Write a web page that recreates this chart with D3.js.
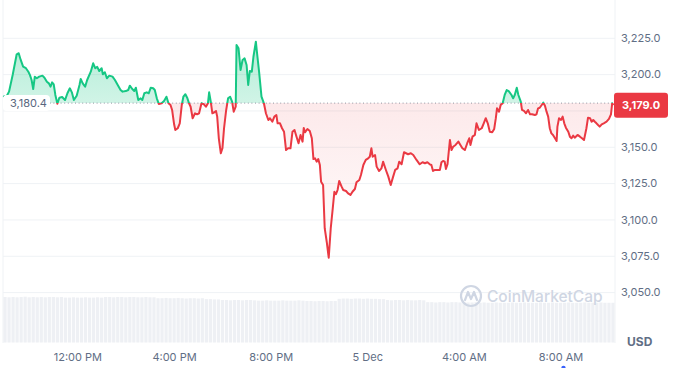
<!DOCTYPE html>
<html><head><meta charset="utf-8">
<script src="https://cdn.jsdelivr.net/npm/d3@7"></script>
<style>
body{margin:0;background:#fff;}
svg{display:block;font-family:Inter,"Noto Sans",sans-serif;}
</style>
</head><body>
<svg id="chart" width="673" height="368"></svg>
<script>
// minutes after 00:00 on 4 Dec
const times = [535,541,549,558,568,573,578,584,591,597,601,605,609,613,618,624,632,637,643,648,652,656,660,664,669,674,681,688,694,700,705,710,717,724,727,732,738,743,752,758,763,768,773,779,782,787,792,798,806,812,820,826,831,839,845,849,855,860,864,870,876,880,885,891,896,901,907,911,916,921,928,934,940,945,950,954,959,962,968,973,978,982,987,992,996,1000,1005,1011,1016,1021,1027,1033,1038,1043,1046,1050,1054,1059,1063,1066,1070,1075,1079,1083,1088,1093,1098,1103,1107,1112,1114,1119,1124,1129,1134,1139,1143,1147,1152,1156,1162,1165,1170,1176,1182,1187,1193,1197,1203,1208,1213,1216,1222,1227,1232,1237,1242,1248,1253,1258,1263,1268,1273,1278,1281,1284,1290,1296,1301,1305,1309,1313,1317,1321,1324,1329,1333,1338,1343,1348,1353,1357,1361,1365,1369,1375,1379,1386,1391,1397,1402,1408,1412,1419,1423,1429,1435,1441,1445,1449,1452,1458,1462,1468,1474,1478,1485,1491,1497,1503,1508,1514,1518,1524,1530,1535,1540,1547,1553,1561,1569,1576,1582,1588,1594,1598,1602,1607,1612,1619,1623,1627,1631,1634,1638,1644,1648,1652,1658,1665,1670,1675,1681,1687,1692,1695,1700,1706,1710,1716,1723,1728,1733,1738,1743,1749,1754,1758,1761,1766,1770,1775,1780,1785,1790,1797,1801,1805,1810,1814,1820,1823,1828,1833,1838,1843,1848,1855,1859,1863,1867,1872,1876,1880,1884,1888,1892,1896,1900,1905,1909,1911,1915,1920,1924,1928,1932,1938,1942,1946,1950,1954,1961,1967,1972,1977,1983,1987,1992,1996,2000,2004,2008,2012,2016,2021,2026,2033,2039,2044,2047,2050];
const prices = [3185.5,3184.1,3188.3,3199.7,3214.0,3214.7,3210.1,3205.5,3204.4,3202.0,3199.7,3196.3,3190.1,3198.6,3197.5,3198.6,3199.3,3197.9,3195.1,3194.0,3191.7,3194.7,3193.3,3186.0,3180.0,3184.1,3184.6,3182.5,3187.2,3190.6,3187.8,3182.5,3185.5,3192.9,3197.0,3194.0,3191.7,3196.3,3202.0,3207.8,3204.4,3205.3,3202.5,3204.4,3200.2,3201.6,3197.5,3199.3,3198.6,3196.3,3192.4,3189.4,3188.3,3188.7,3189.4,3192.4,3190.1,3188.7,3191.0,3182.5,3183.7,3182.5,3187.2,3187.8,3187.2,3191.0,3190.6,3189.4,3183.7,3179.8,3180.3,3181.9,3184.8,3180.3,3179.1,3175.7,3165.8,3161.9,3163.1,3166.5,3179.1,3184.8,3186.5,3183.7,3180.3,3177.9,3170.0,3173.4,3172.7,3173.4,3180.3,3179.6,3177.9,3180.3,3187.8,3181.4,3173.4,3174.1,3175.0,3171.1,3156.2,3145.9,3149.3,3163.1,3175.0,3183.7,3184.8,3181.4,3174.5,3177.9,3220.4,3218.1,3203.2,3210.1,3211.2,3206.6,3192.9,3202.5,3202.0,3212.3,3222.7,3214.7,3202.0,3184.8,3180.3,3173.4,3168.8,3170.0,3167.6,3171.1,3172.2,3166.5,3166.5,3163.1,3160.7,3148.1,3149.3,3149.3,3160.7,3161.9,3157.3,3152.8,3158.5,3153.9,3163.3,3160.3,3162.6,3161.2,3156.2,3141.9,3142.4,3140.1,3141.9,3137.8,3126.3,3124.1,3094.3,3085.0,3074.0,3094.3,3108.0,3119.4,3117.7,3120.6,3126.8,3122.9,3120.6,3119.9,3118.3,3117.2,3119.4,3121.3,3125.9,3127.5,3130.9,3137.8,3141.3,3142.4,3143.5,3149.3,3143.5,3144.7,3136.7,3133.7,3135.5,3140.1,3134.4,3129.8,3124.1,3129.8,3134.4,3135.5,3140.1,3138.3,3146.6,3145.9,3145.2,3145.9,3144.7,3141.3,3138.3,3139.7,3139.0,3139.7,3138.3,3137.8,3133.7,3134.4,3134.4,3134.4,3139.7,3140.6,3140.1,3135.1,3138.3,3155.0,3148.1,3150.4,3151.6,3153.9,3151.6,3149.3,3148.1,3152.8,3156.2,3151.6,3157.3,3158.5,3166.5,3161.9,3163.1,3166.5,3170.0,3166.5,3160.7,3160.3,3162.6,3170.0,3176.8,3174.5,3179.1,3180.3,3186.0,3189.4,3188.7,3186.0,3183.7,3186.0,3191.0,3186.0,3181.4,3175.7,3175.0,3173.4,3175.7,3172.7,3172.7,3172.2,3172.7,3176.8,3177.2,3179.1,3180.7,3178.6,3174.5,3171.1,3163.1,3159.6,3158.5,3156.2,3154.3,3164.2,3170.0,3168.8,3171.1,3166.5,3163.5,3160.7,3157.3,3156.2,3158.0,3156.6,3158.5,3157.3,3156.2,3155.0,3163.1,3170.4,3170.0,3167.6,3168.8,3167.6,3166.5,3165.3,3164.2,3165.8,3166.5,3167.6,3169.5,3172.7,3180.3,3179.0];
const openPrice = 3180.4;
const lastPrice = 3179.0;
const yTicks = [3050,3075,3100,3125,3150,3175,3200,3225];
const yHidden = [3175];
const xTickHours = [12,16,20,24,28,32];
const xTickLabels = ["12:00 PM","4:00 PM","8:00 PM","5 Dec","4:00 AM","8:00 AM"];
// volume bars, one per 10 minutes starting 535
const volStart = 535, volStep = 10;
const volumes = [15.0,14.9,15.0,14.9,15.0,15.1,14.9,15.0,14.9,15.0,14.9,15.0,15.0,14.9,15.0,
14.8,14.8,14.9,14.8,14.8,14.9,14.8,14.8,14.9,14.8,
15.0,15.0,14.9,15.0,15.0,14.9,15.0,15.0,14.9,14.9,15.0,14.9,14.9,
14.6,14.6,14.7,14.6,14.6,14.7,14.6,14.5,14.6,14.6,14.5,14.6,
14.3,14.3,14.2,14.2,
14.0,14.0,13.9,14.0,14.0,13.9,14.0,14.0,13.9,
13.8,13.8,13.9,13.8,13.8,13.8,13.9,13.8,13.8,13.8,13.9,13.8,
13.7,13.7,13.6,13.7,13.7,13.6,13.7,13.7,
14.4,14.5,14.5,14.4,14.5,14.5,14.4,14.5,14.4,14.4,14.3,14.3,
14.0,13.9,14.0,14.0,13.9,14.0,13.9,13.9,14.0,13.9,
13.3,13.3,13.2,13.3,13.3,13.2,13.3,13.3,13.2,13.3,13.2,13.2,13.3,
13.1,13.2,13.1,13.1,13.2,13.1,13.1,13.1,13.2,13.1,13.1,13.2,13.1,13.1,13.1,13.2,13.1,13.1,13.2,13.1,13.1,13.1,13.2,13.1,13.1,13.1,13.2,13.1,13.1,13.1,13.2,13.1,13.1,13.1];

const GREEN = "#16c784", RED = "#ea3943";
const day0 = new Date(2024, 11, 4);
const tAt = m => new Date(day0.getTime() + m * 60000);
const data = d3.range(Math.min(times.length, prices.length)).map(i => ({t: tAt(times[i]), p: prices[i]}));

const svg = d3.select("#chart");
const left = 3, right = 615;
const x = d3.scaleTime().domain([tAt(8*60+54), tAt(34*60+14)]).range([left, right]);
const y = d3.scaleLinear().domain([3050, 3225]).range([292.6, 38.3]);
const yv = d3.scaleLinear().domain([0, 15]).range([342.5, 297]);

const defs = svg.append("defs");
const gG = defs.append("linearGradient").attr("id","gG").attr("gradientUnits","userSpaceOnUse")
  .attr("x1",0).attr("x2",0).attr("y1",y(3222)).attr("y2",y(openPrice));
gG.append("stop").attr("offset",0).attr("stop-color",GREEN).attr("stop-opacity",0.32);
gG.append("stop").attr("offset",1).attr("stop-color",GREEN).attr("stop-opacity",0.2);
const gR = defs.append("linearGradient").attr("id","gR").attr("gradientUnits","userSpaceOnUse")
  .attr("x1",0).attr("x2",0).attr("y1",y(openPrice)).attr("y2",y(3074));
gR.append("stop").attr("offset",0).attr("stop-color",RED).attr("stop-opacity",0.11);
gR.append("stop").attr("offset",1).attr("stop-color",RED).attr("stop-opacity",0.01);
defs.append("clipPath").attr("id","cA").append("rect")
  .attr("x",0).attr("y",0).attr("width",673).attr("height",y(openPrice));
defs.append("clipPath").attr("id","cB").append("rect")
  .attr("x",0).attr("y",y(openPrice)).attr("width",673).attr("height",368-y(openPrice));

// frame + grid
svg.append("g").selectAll("line").data(yTicks).join("line")
  .attr("x1",left).attr("x2",right).attr("y1",d=>y(d)).attr("y2",d=>y(d))
  .attr("stroke","#eff2f5").attr("stroke-width",1);
svg.append("line").attr("x1",left).attr("x2",left).attr("y1",0).attr("y2",343).attr("stroke","#eff2f5");
svg.append("line").attr("x1",right).attr("x2",right).attr("y1",0).attr("y2",343).attr("stroke","#eff2f5");

// volume
const barW = x(tAt(volStep)) - x(tAt(0));
svg.append("g").selectAll("rect").data(volumes).join("rect")
  .attr("x",(d,i)=>x(tAt(volStart + i*volStep)))
  .attr("width",barW-0.8)
  .attr("y",d=>yv(d)).attr("height",d=>yv(0)-yv(d))
  .attr("fill","#eef0f4");

// watermark
const wm = svg.append("g").attr("transform","translate(471,296)").attr("opacity",1);
wm.append("circle").attr("r",10).attr("fill","none").attr("stroke","#cfd6e3").attr("stroke-width",2.2);
wm.append("path").attr("d","M-6,4 L-3,-4 L0,3 L3,-4 L6,4").attr("fill","none")
  .attr("stroke","#cfd6e3").attr("stroke-width",2.2).attr("stroke-linejoin","round").attr("stroke-linecap","round");
svg.append("text").attr("x",487).attr("y",301.5).attr("font-size",15.5).attr("fill","#cfd6e3")
  .attr("font-weight",500).text("CoinMarketCap");

// areas
const area = d3.area().x(d=>x(d.t)).y0(y(openPrice)).y1(d=>y(d.p));
svg.append("path").datum(data).attr("d",area).attr("fill","url(#gG)").attr("clip-path","url(#cA)");
svg.append("path").datum(data).attr("d",area).attr("fill","url(#gR)").attr("clip-path","url(#cB)");

// baseline dotted
svg.append("line").attr("x1",left).attr("x2",x(data[data.length-1].t))
  .attr("y1",y(openPrice)).attr("y2",y(openPrice))
  .attr("stroke","#9097a3").attr("stroke-width",1).attr("stroke-dasharray","1,2.6");

// lines
const line = d3.line().x(d=>x(d.t)).y(d=>y(d.p));
svg.append("path").datum(data).attr("d",line).attr("fill","none").attr("stroke",GREEN)
  .attr("stroke-width",2).attr("stroke-linejoin","round").attr("clip-path","url(#cA)");
svg.append("path").datum(data).attr("d",line).attr("fill","none").attr("stroke",RED)
  .attr("stroke-width",2).attr("stroke-linejoin","round").attr("clip-path","url(#cB)");

// open price label
svg.append("rect").attr("x",3).attr("y",y(openPrice)-8).attr("width",47).attr("height",16)
  .attr("rx",4).attr("fill","#fff");
svg.append("text").attr("x",10).attr("y",y(openPrice)).attr("dy","0.35em")
  .attr("font-size",11).attr("fill","#58667e").text(d3.format(",.1f")(openPrice));

// y labels
svg.append("g").selectAll("text").data(yTicks.filter(d=>!yHidden.includes(d))).join("text")
  .attr("x",621).attr("y",d=>y(d)).attr("dy","0.35em").attr("font-size",11).attr("fill","#616e85")
  .text(d=>d3.format(",.1f")(d));

// x labels
svg.append("g").selectAll("text").data(xTickHours).join("text")
  .attr("x",d=>x(tAt(d*60))).attr("y",361).attr("text-anchor","middle")
  .attr("font-size",11).attr("fill","#616e85").text((d,i)=>xTickLabels[i]);

svg.append("text").attr("x",627).attr("y",346).attr("font-size",12).attr("font-weight",700)
  .attr("fill","#616e85").text("USD");

// last price badge
svg.append("rect").attr("x",614).attr("y",y(lastPrice)-12.5).attr("width",54).attr("height",25)
  .attr("rx",3).attr("fill",RED);
svg.append("text").attr("x",641).attr("y",y(lastPrice)).attr("dy","0.35em").attr("text-anchor","middle")
  .attr("font-size",11).attr("font-weight",700).attr("fill","#fff").text(d3.format(",.1f")(lastPrice));

svg.append("circle").attr("cx",x(tAt(32*60+6))).attr("cy",368).attr("r",2.2).attr("fill","#3861fb");
</script>
</body></html>
